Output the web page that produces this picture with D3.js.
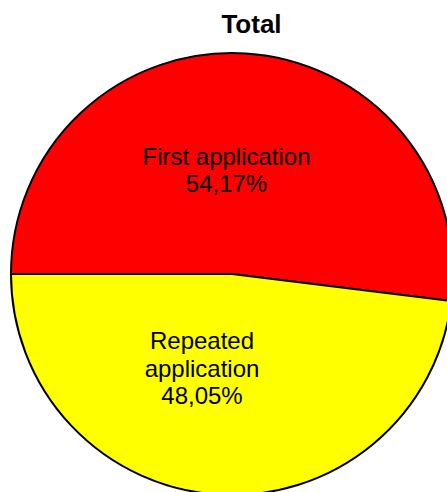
<!DOCTYPE html>
<html>
<head>
<meta charset="utf-8">
<script src="https://cdn.jsdelivr.net/npm/d3@7"></script>
<style>
  html, body { margin: 0; padding: 0; background: #fff; }
  svg { display: block; }
</style>
</head>
<body>
<svg id="chart" width="447" height="492"></svg>
<script>
const title = "Total";
const categories = ["First application", "Repeated application"];
const sliceShares = [51.95, 48.05];
const percentLabels = ["54,17%", "48,05%"];
const colors = ["#FF0000", "#FFFF00"];

const svg = d3.select("#chart");
const cx = 232, cy = 274, r = 221;

svg.append("text")
  .attr("x", 251.5).attr("y", 33)
  .attr("text-anchor", "middle")
  .attr("font-family", "Liberation Sans, Arial, sans-serif")
  .attr("font-weight", "bold")
  .attr("font-size", 26)
  .attr("fill", "#000")
  .text(title);

const pie = d3.pie().sort(null)
  .startAngle(-Math.PI / 2).endAngle(3 * Math.PI / 2)
  .value(d => d);
const arcs = pie(sliceShares);
const arc = d3.arc().innerRadius(0).outerRadius(r);

const g = svg.append("g").attr("transform", `translate(${cx},${cy})`);
g.selectAll("path").data(arcs).enter().append("path")
  .attr("d", arc)
  .attr("fill", (d, i) => colors[i])
  .attr("stroke", "#000")
  .attr("stroke-width", 2)
  .attr("stroke-linejoin", "round");

const labelLines = [
  [categories[0], percentLabels[0]],
  ["Repeated", "application", percentLabels[1]]
];
const labelPos = [
  { x: 226.5 - cx, y: 164.5 - cy },
  { x: 202 - cx, y: 349.3 - cy }
];
const lineH = 27.5;
labelLines.forEach((lines, i) => {
  const t = g.append("text")
    .attr("text-anchor", "middle")
    .attr("font-family", "Liberation Sans, Arial, sans-serif")
    .attr("font-size", 24)
    .attr("fill", "#000");
  lines.forEach((ln, j) => {
    t.append("tspan")
      .attr("x", labelPos[i].x)
      .attr("y", labelPos[i].y + j * lineH)
      .text(ln);
  });
});
</script>
</body>
</html>
